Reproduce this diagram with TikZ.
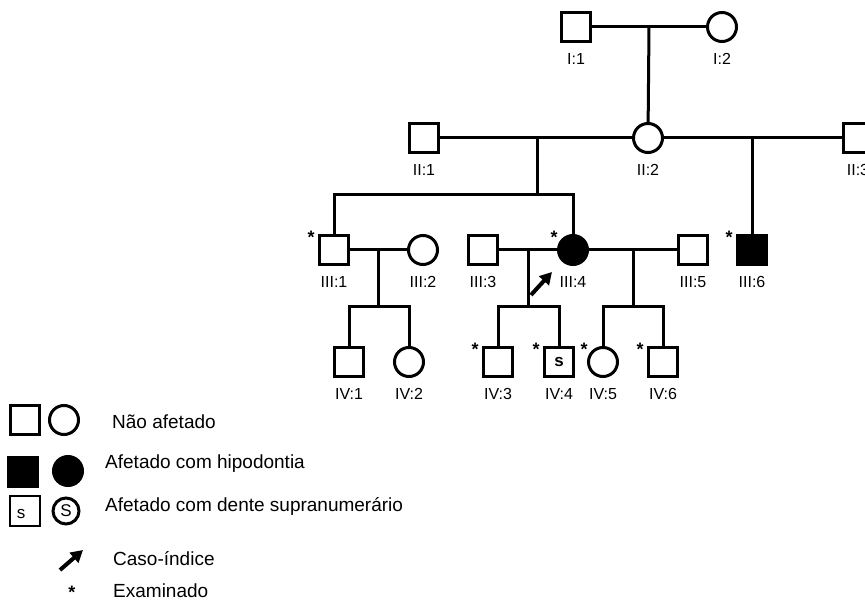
\documentclass[tikz,border=0pt]{standalone}
\usepackage{fontspec}
\setmainfont{Liberation Sans}
\usetikzlibrary{arrows.meta,calc}

\begin{document}
\begin{tikzpicture}[x=1pt,y=-1pt,
    male/.style={rectangle, draw, line width=3.5pt, minimum size=29pt, inner sep=0pt},
    female/.style={circle, draw, line width=3pt, minimum size=29pt, inner sep=0pt},
    aff/.style={fill=black},
    ped/.style={line width=3pt},
    idl/.style={font=\fontsize{16}{16}\selectfont, yshift=-32pt},
    exm/.style={font=\fontsize{18}{18}\selectfont\bfseries, yshift=13pt},
    exsq/.style={label={[exm, xshift=-23pt]center:*}},
    exci/.style={label={[exm, xshift=-19pt]center:*}},
    keytxt/.style={anchor=west, inner sep=0pt, font=\fontsize{19}{21}\selectfont},
    index/.style={line width=4pt, -{Triangle[length=12pt,width=13pt]}}
  ]
  \clip (0,0) rectangle (865,601);

  % Generation I
  \node[male]   (I1) at (576,27) [label={[idl]center:{I:1}}] {};
  \node[female] (I2) at (722,27) [label={[idl]center:{I:2}}] {};
  \coordinate (m1) at ($(I1)!0.5!(I2)$);

  % Generation II
  \node[male]   (II1) at (424,138) [label={[idl]center:{II:1}}] {};
  \node[female] (II2) at (648,138) [label={[idl]center:{II:2}}] {};
  \node[male]   (II3) at (858,138) [label={[idl]center:{II:3}}] {};
  \coordinate (m2) at (537,138);
  \coordinate (m3) at (752,138);
  \coordinate (g3) at (537,195);

  % Generation III
  \node[male, exsq]   (III1) at (334,250) [label={[idl]center:{III:1}}] {};
  \node[female]       (III2) at (423,250) [label={[idl]center:{III:2}}] {};
  \node[male]         (III3) at (483,250) [label={[idl]center:{III:3}}] {};
  \node[female, aff, exci] (III4) at (573,250) [label={[idl]center:{III:4}}] {};
  \node[male]         (III5) at (693,250) [label={[idl]center:{III:5}}] {};
  \node[male, aff, exsq] (III6) at (752,250) [label={[idl]center:{III:6}}] {};
  \coordinate (m4) at (378,250);
  \coordinate (m5) at (528,250);
  \coordinate (m6) at (633,250);
  \coordinate (g4a) at (378,307);
  \coordinate (g4b) at (528,307);
  \coordinate (g4c) at (633,307);

  % Generation IV
  \node[male]         (IV1) at (349,362) [label={[idl]center:{IV:1}}] {};
  \node[female]       (IV2) at (409,362) [label={[idl]center:{IV:2}}] {};
  \node[male, exsq]   (IV3) at (498,362) [label={[idl]center:{IV:3}}] {};
  \node[male, exsq, font=\fontsize{17}{17}\selectfont\bfseries]
                      (IV4) at (559,362) [label={[idl,font=\fontsize{16}{16}\selectfont\mdseries]center:{IV:4}}] {s};
  \node[female, exci] (IV5) at (603,362) [label={[idl]center:{IV:5}}] {};
  \node[male, exsq]   (IV6) at (663,362) [label={[idl]center:{IV:6}}] {};

  % mating and sibship lines
  \draw[ped] (I1) -- (I2);
  \draw[ped] (m1) -- (II2);
  \draw[ped] (II1) -- (II2);
  \draw[ped] (II2) -- (II3);
  \draw[ped] (m2) -- (g3);
  \draw[ped] (III1.north) |- (g3) -| (III4.north);
  \draw[ped] (m3) -- (III6);
  \draw[ped] (III1) -- (III2);
  \draw[ped] (III3) -- (III4);
  \draw[ped] (III4) -- (III5);
  \draw[ped] (m4) -- (g4a);
  \draw[ped] (m5) -- (g4b);
  \draw[ped] (m6) -- (g4c);
  \draw[ped] (IV1.north) |- (g4a) -| (IV2.north);
  \draw[ped] (IV3.north) |- (g4b) -| (IV4.north);
  \draw[ped] (IV5.north) |- (g4c) -| (IV6.north);

  % index case
  \coordinate (pb) at ($(III4)+(-42,45)$);
  \draw[index] (pb) -- ++(21,-23);

  % Key
  \node[male]   (kM) at (25,420) {};
  \node[female] (kF) at (64,420) {};
  \node[keytxt] (kNA) at (112,422) {Não afetado};
  \node[male, aff]   (kMa) at (23,472) {};
  \node[female, aff] (kFa) at (68,471) {};
  \node[keytxt] (kAH) at (105,464) {Afetado com hipodontia};
  \node[male, line width=2.5pt, minimum size=30pt]
        (kMs) at (25,511) [label={[font=\fontsize{17}{17}\selectfont, xshift=-4pt, yshift=-3pt]center:s}] {};
  \node[female, minimum size=26pt, font=\fontsize{17}{17}\selectfont] (kFs) at (66,511) {S};
  \node[keytxt] (kAS) at (105,506) {Afetado com dente supranumerário};
  \coordinate (kpb) at (60,570);
  \draw[index] (kpb) -- ++(23,-20);
  \node[keytxt] (kCI) at (113,559) {Caso-índice};
  \node[font=\fontsize{18}{18}\selectfont\bfseries, inner sep=0pt] (kEx) at (72,592) {*};
  \node[keytxt] (kEX) at (113,591) {Examinado};
\end{tikzpicture}
\end{document}
